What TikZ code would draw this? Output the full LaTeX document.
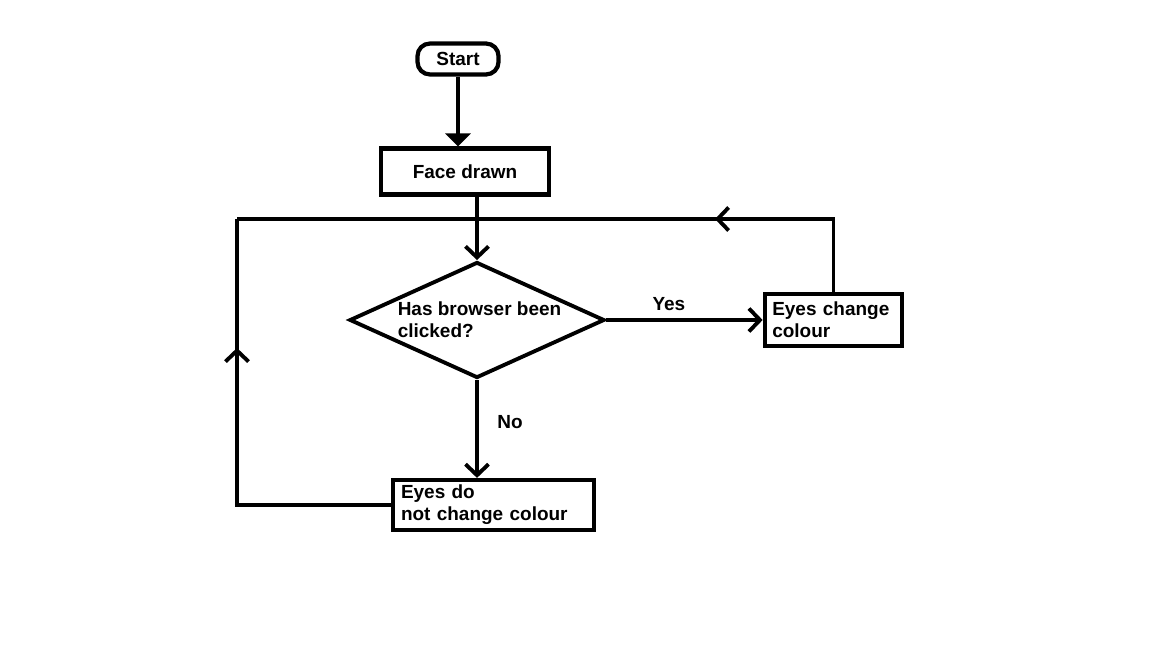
\documentclass[tikz,border=0pt]{standalone}
\usepackage{fontspec}
\setmainfont{Liberation Sans}
\usetikzlibrary{shapes.geometric,arrows.meta,decorations.markings}

\begin{document}
\begin{tikzpicture}[
% Blocks and decision style
    startbox/.style={draw,line width=2.4pt,rounded corners=2.5mm,
		minimum width=1.62cm,minimum height=0.62cm,inner sep=0pt},
    stepbox/.style={draw,line width=2.4pt,minimum height=0.92cm,
		inner ysep=0pt,align=left},
    decision/.style={diamond,draw,line width=2.2pt,aspect=2.2,inner sep=0pt,
		minimum width=5.1cm,minimum height=2.32cm,align=left},
% Connector style
    link/.style={line width=2.2pt},
    flow/.style={link,-{Straight Barb[length=2.2mm,width=4.6mm]}},
    midarrow/.style={postaction={decorate},decoration={markings,
		mark=at position #1 with {\arrow{Straight Barb[length=2.2mm,width=4.6mm]}}}},
% Text style
    every node/.style={font=\fontsize{10.8}{12.5}\selectfont\bfseries}
    ]
\useasboundingbox (0,0) rectangle (23.04,-12.96);
%% Draw blocks
    \node (start) [startbox] at (9.16,-1.18) {Start};
    \node (face) [stepbox,minimum width=3.36cm] at (9.30,-3.43) {Face drawn};
    \node (click) [decision] at (9.54,-6.40) {\hspace{1mm}Has browser been\\\hspace{1mm}clicked?};
    \node (change) [stepbox,text width=2.45cm,inner xsep=0.15cm,
		minimum height=1.04cm] at (16.67,-6.40) {Eyes change\\colour};
    \node (keep) [stepbox,text width=3.7cm,inner xsep=0.16cm,
		minimum height=1.0cm] at (9.87,-10.10) {Eyes do\\not change colour};
    \coordinate (loopcorner) at (4.74,-4.38);

%% Draw connectors
    \draw [link,-{Triangle[length=2.6mm,width=5mm]}] (start) -- (start |- face.north);
    \draw [flow] (face.south -| click.north) -- (click.north);
    \draw [flow] (click.east) -- node[above=1pt,pos=0.4] {Yes} (change.west);
    \draw [flow] (click.south) -- node[right=0.25cm,pos=0.43] {No}
		(click.south |- keep.north);
    \draw [link,midarrow=0.286] (change.north) |- (loopcorner);
    \draw [link,midarrow=0.707] (keep.west) -| (loopcorner);

\end{tikzpicture}
\end{document}
